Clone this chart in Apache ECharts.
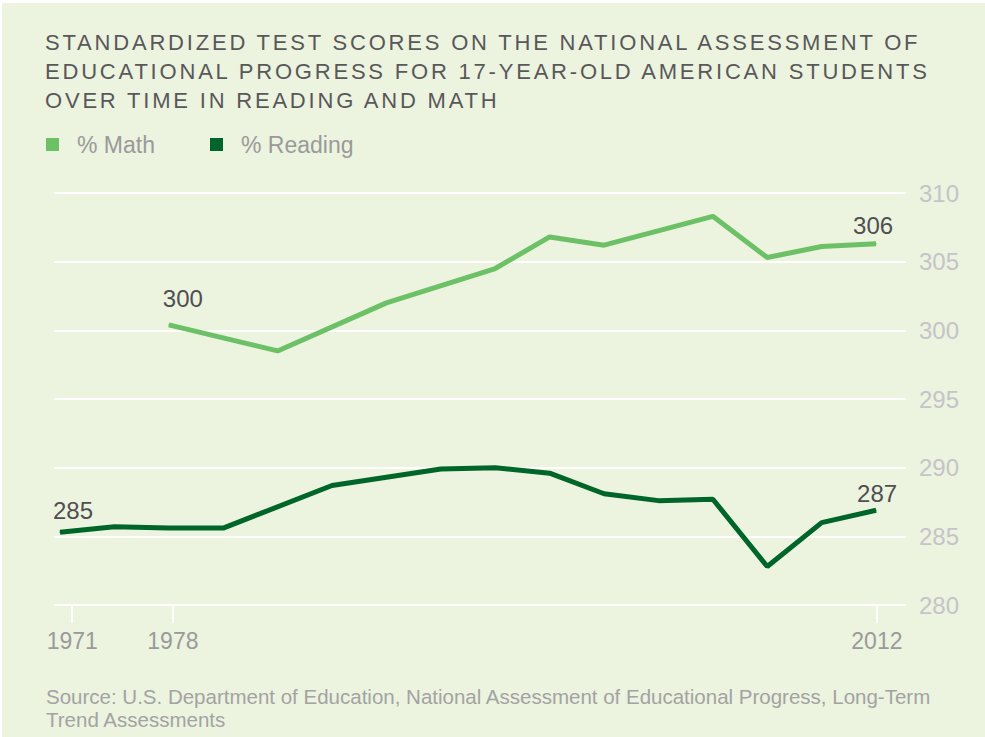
<!DOCTYPE html>
<html>
<head>
<meta charset="utf-8">
<script src="https://cdn.jsdelivr.net/npm/echarts@6/dist/echarts.min.js"></script>
<style>
  html, body { margin: 0; padding: 0; background: #fff; }
  #chart { width: 985px; height: 737px; }
</style>
</head>
<body>
<div id="chart"></div>
<script>
// x positions are plot slots (two slots between most assessments)
const readingSlots = [0, 2, 4, 6, 10, 14, 16, 18, 20, 22, 24, 26, 28, 30];
const readingScores = [285.3, 285.7, 285.6, 285.6, 288.7, 289.9, 290.0, 289.6, 288.1, 287.6, 287.7, 282.8, 286.0, 286.9];

const mathSlots = [4, 8, 12, 16, 18, 20, 24, 26, 28, 30];
const mathScores = [300.4, 298.5, 302.0, 304.5, 306.8, 306.2, 308.3, 305.3, 306.1, 306.3];

const yearTickSlots = [0.45, 4.15, 30.03];
const yearTickLabels = ["1971", "1978", "2012"];

const titleLines = [
  "STANDARDIZED TEST SCORES ON THE NATIONAL ASSESSMENT OF",
  "EDUCATIONAL PROGRESS FOR 17-YEAR-OLD AMERICAN STUDENTS",
  "OVER TIME IN READING AND MATH",
];

const MATH_COLOR = "#6cc166";
const READING_COLOR = "#006529";
const FONT = "'Liberation Sans', Arial, Helvetica, sans-serif";

function buildData(slots, values, firstOffset, lastOffset) {
  return slots.map((s, i) => {
    let item = { value: [s, values[i]] };
    if (i === 0 || i === slots.length - 1) {
      item.label = {
        show: true,
        position: "top",
        offset: i === 0 ? firstOffset : lastOffset,
        formatter: (p) => Math.round(p.value[1]),
        color: "#4f4f51",
        fontSize: 24,
        fontFamily: FONT,
      };
    }
    return item;
  });
}

const chart = echarts.init(document.getElementById("chart"), null, { renderer: "svg" });

const option = {
  animation: false,
  backgroundColor: "#ffffff",
  graphic: [
    {
      type: "rect",
      z: -10,
      shape: { x: 2, y: 3, width: 983, height: 734 },
      style: { fill: "#ecf3df" },
    },
    {
      type: "text",
      left: 46,
      top: 685,
      style: {
        text: "Source: U.S. Department of Education, National Assessment of Educational Progress, Long-Term\nTrend Assessments",
        fill: "#a3a3a3",
        font: "20.5px " + FONT,
        lineHeight: 23,
      },
    },
  ],
  title: {
    text: titleLines.join("\n"),
    left: 45,
    top: 28,
    padding: 0,
    textStyle: {
      color: "#58585a",
      fontSize: 22,
      fontWeight: "normal",
      fontFamily: FONT,
      lineHeight: 29,
    },
  },
  legend: {
    left: 46,
    top: 133,
    padding: 0,
    icon: "rect",
    itemWidth: 13,
    itemHeight: 13,
    itemGap: 55,
    textStyle: {
      color: "#9a9a9a",
      fontSize: 23,
      fontFamily: FONT,
      padding: [0, 0, 0, 13],
    },
    data: ["% Math", "% Reading"],
  },
  grid: {
    left: 54,
    right: 79,
    top: 193,
    bottom: 132,
  },
  xAxis: {
    type: "value",
    min: -0.22,
    max: 31.1,
    splitLine: { show: false },
    axisLine: { show: false },
    axisTick: {
      show: true,
      customValues: yearTickSlots,
      length: 18,
      lineStyle: { color: "#ffffff", width: 2 },
    },
    axisLabel: {
      customValues: yearTickSlots,
      formatter: (v) => {
        let i = yearTickSlots.findIndex((s) => Math.abs(s - v) < 0.01);
        return i >= 0 ? yearTickLabels[i] : "";
      },
      margin: 24,
      color: "#9a9a9a",
      fontSize: 23,
      fontFamily: FONT,
    },
  },
  yAxis: {
    type: "value",
    position: "right",
    min: 280,
    max: 310,
    interval: 5,
    axisLine: { show: false },
    axisTick: { show: false },
    splitLine: { lineStyle: { color: "#ffffff", width: 2 } },
    axisLabel: {
      margin: 13,
      color: "#c4c4c9",
      fontSize: 24,
      fontFamily: FONT,
    },
  },
  series: [
    {
      name: "% Math",
      type: "line",
      data: buildData(mathSlots, mathScores, [14, -9], [-3, -1]),
      symbol: "circle",
      symbolSize: 1,
      color: MATH_COLOR,
      lineStyle: { width: 5, color: MATH_COLOR },
      itemStyle: { color: MATH_COLOR },
    },
    {
      name: "% Reading",
      type: "line",
      data: buildData(readingSlots, readingScores, [13, -4], [1, 1]),
      symbol: "circle",
      symbolSize: 1,
      color: READING_COLOR,
      lineStyle: { width: 5, color: READING_COLOR },
      itemStyle: { color: READING_COLOR },
    },
  ],
};

chart.setOption(option);

// widen the title tracking like the original
function spaceTitle() {
  chart.getDom().querySelectorAll("text").forEach((t) => {
    if (titleLines.includes(t.textContent.trim())) {
      t.setAttribute("letter-spacing", "2.8");
    }
  });
}
spaceTitle();
chart.on("finished", spaceTitle);
</script>
</body>
</html>
